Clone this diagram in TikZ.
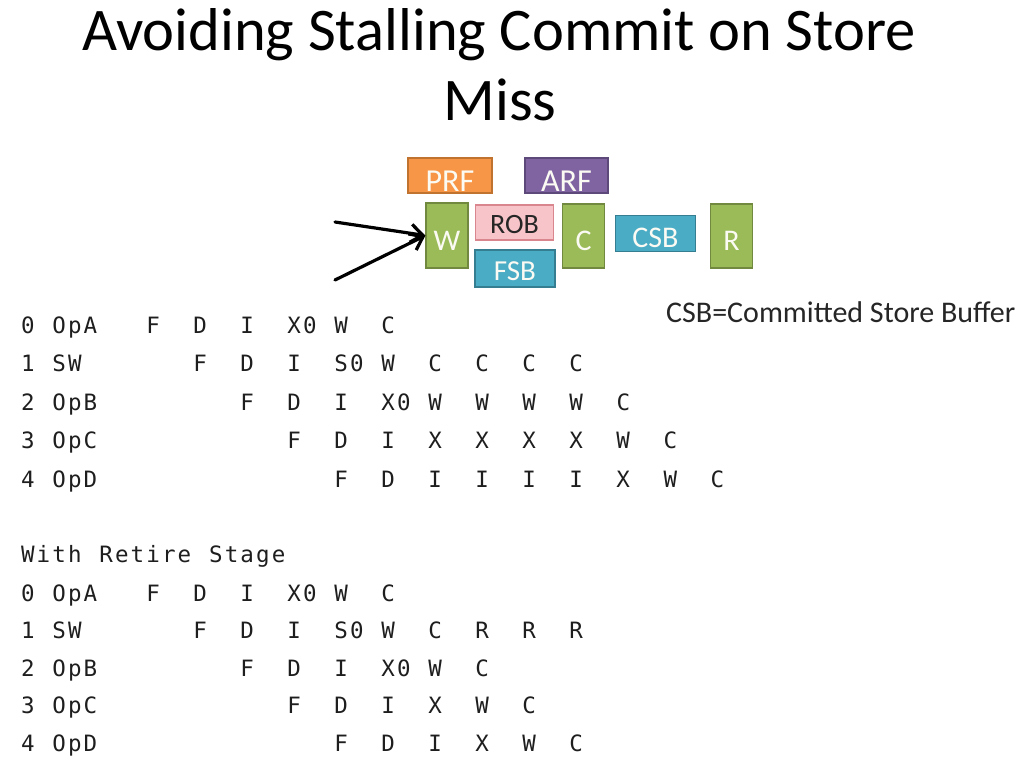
\documentclass[tikz,border=0pt]{standalone}
\usepackage{fontspec}
\setmainfont{Carlito}
\newfontfamily\codefont{DejaVu Sans Mono}
\usetikzlibrary{arrows.meta}

% fixed-pitch grid: every character gets a cell of the same width, '.' is a blank cell
\newlength\cellw
\setlength\cellw{15.67pt}
\def\gridend{gridend}
\def\grid#1{\gridi#1\gridend}
\def\gridi#1{\ifx#1\gridend\else\ifx#1.\hspace*{\cellw}\else\makebox[\cellw][c]{#1}\fi\expandafter\gridi\fi}

\definecolor{ofOrange}{HTML}{F79646}
\definecolor{ofOrangeD}{HTML}{C0722F}
\definecolor{ofPurple}{HTML}{8064A2}
\definecolor{ofPurpleD}{HTML}{5E4A7A}
\definecolor{ofGreen}{HTML}{9BBB59}
\definecolor{ofGreenD}{HTML}{71893F}
\definecolor{ofTeal}{HTML}{4BACC6}
\definecolor{ofTealD}{HTML}{357D91}
\definecolor{ofPink}{HTML}{F7C4C9}
\definecolor{ofPinkD}{HTML}{D9868E}
\definecolor{codeInk}{HTML}{1E1E1E}
\definecolor{boxInk}{HTML}{FBFBF4}

% labels sit low in their boxes: text height shifts the baseline below the centre
\tikzset{
  unit/.style={draw, line width=1.2pt, inner sep=0pt, text=boxInk, text depth=0pt},
  regfile/.style={unit, minimum width=84pt, minimum height=35pt,
    font=\fontsize{32}{36}\selectfont, text height=32pt},
  stage/.style={unit, fill=ofGreen, draw=ofGreenD, minimum width=42pt, minimum height=64pt,
    font=\fontsize{30}{34}\selectfont, text height=29pt},
  buf/.style={unit, fill=ofTeal, draw=ofTealD, minimum width=80pt, minimum height=36pt,
    font=\fontsize{29}{33}\selectfont, text height=24pt},
  codeline/.style={inner sep=0pt, anchor=base west, text=codeInk,
    font=\codefont\fontsize{22.5}{27}\selectfont},
  feed/.style={line width=3.2pt, -{Straight Barb[length=12pt, width=18pt]}, line cap=round}
}

\begin{document}
\begin{tikzpicture}[x=1pt, y=-1pt]
\useasboundingbox (0,0) rectangle (1031,764);
\fill[white] (0,0) rectangle (1031,764);

% title
\node[anchor=base, inner sep=0pt, font=\fontsize{60.5}{72}\selectfont] (title1) at (499,50) {Avoiding Stalling Commit on Store};
\node[anchor=base, inner sep=0pt, font=\fontsize{60.5}{72}\selectfont] (title2) at (500,120) {Miss};

% pipeline back end
\node[regfile, fill=ofOrange, draw=ofOrangeD] (prf) at (450,175.5) {PRF};
\node[regfile, fill=ofPurple, draw=ofPurpleD, minimum width=83pt] (arf) at (566.5,175.5) {ARF};
\node[stage, minimum height=65pt] (w) at (447,235.5) {W};
\node[unit, fill=ofPink, draw=ofPinkD, text=black!85, minimum width=78pt, minimum height=35pt,
      font=\fontsize{28}{32}\selectfont, text height=22pt] (rob) at (514.5,222.5) {ROB};
\node[buf, minimum height=37pt] (fsb) at (515,268.5) {FSB};
\node[stage] (c) at (583.5,236) {C};
\node[buf, font=\fontsize{30}{34}\selectfont, text height=27pt] (csb) at (655.5,233.5) {CSB};
\node[stage] (r) at (731.5,236) {R};

\coordinate (in1) at (335,222);
\coordinate (in2) at (335,280);
\draw[feed] (in1) -- (w.west);
\draw[feed] (in2) -- (w.west);

\node[anchor=base west, inner sep=0pt, text=black!85, font=\fontsize{30}{34}\selectfont] (legend) at (666,322) {CSB=Committed Store Buffer};

% commit stalls behind the store miss
\node[codeline] (a0) at (19.8,333)   {\grid{0.OpA...F..D..I..X0.W..C}};
\node[codeline] (a1) at (19.8,371.5) {\grid{1.SW.......F..D..I..S0.W..C..C..C..C}};
\node[codeline] (a2) at (19.8,410)   {\grid{2.OpB.........F..D..I..X0.W..W..W..W..C}};
\node[codeline] (a3) at (19.8,448.5) {\grid{3.OpC............F..D..I..X..X..X..X..W..C}};
\node[codeline] (a4) at (19.8,487)   {\grid{4.OpD...............F..D..I..I..I..I..X..W..C}};

% with a retire stage behind commit
\node[codeline] (bh) at (19.8,562)   {\grid{With.Retire.Stage}};
\node[codeline] (b0) at (19.8,601)   {\grid{0.OpA...F..D..I..X0.W..C}};
\node[codeline] (b1) at (19.8,638.5) {\grid{1.SW.......F..D..I..S0.W..C..R..R..R}};
\node[codeline] (b2) at (19.8,676)   {\grid{2.OpB.........F..D..I..X0.W..C}};
\node[codeline] (b3) at (19.8,713.5) {\grid{3.OpC............F..D..I..X..W..C}};
\node[codeline] (b4) at (19.8,751)   {\grid{4.OpD...............F..D..I..X..W..C}};
\end{tikzpicture}
\end{document}
